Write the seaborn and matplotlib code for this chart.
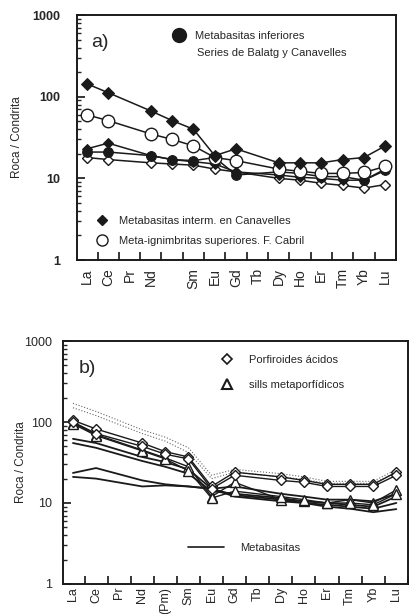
import matplotlib
matplotlib.use('Agg')
import matplotlib.pyplot as plt
from matplotlib.lines import Line2D
from matplotlib.ticker import FuncFormatter, LogLocator, NullFormatter
import numpy as np
import pandas as pd
import seaborn as sns

sns.set_theme(style='ticks')
plt.rcParams['font.family'] = ['Liberation Sans', 'DejaVu Sans']

nan = np.nan

# Elementos de tierras raras (eje x)
elementos = ['La', 'Ce', 'Pr', 'Nd', 'Pm', 'Sm', 'Eu', 'Gd', 'Tb', 'Dy', 'Ho', 'Er', 'Tm', 'Yb', 'Lu']
etiquetas_a = ['La', 'Ce', 'Pr', 'Nd', '', 'Sm', 'Eu', 'Gd', 'Tb', 'Dy', 'Ho', 'Er', 'Tm', 'Yb', 'Lu']
etiquetas_b = ['La', 'Ce', 'Pr', 'Nd', '(Pm)', 'Sm', 'Eu', 'Gd', 'Tb', 'Dy', 'Ho', 'Er', 'Tm', 'Yb', 'Lu']

# Panel a) valores normalizados a condrita
a_interm_1 = [144, 112, nan, 67, 51, 40, 19, 23, nan, 15.5, 15.5, 15.5, 17, 18, 25]
a_ignimb = [60, 51, nan, 35, 30, 25, 18, 16.5, nan, 13, 12.2, 11.5, 11.5, 11.8, 14]
a_inferior = [21, 21, nan, 19, 17, 16.5, 18, 11, nan, 12, 11.5, 10.5, 10.5, 9.5, 12.5]
a_interm_2 = [23, 27, nan, 19, 17, 16, 15, 12, nan, 11, 10.3, 10, 9.5, 9.5, 13]
a_abierto = [18, 17, nan, 15.5, 15, 14.5, 13, 12, nan, 10, 9.5, 8.7, 8.2, 7.6, 8.4]

# Panel b)
b_porf_1 = [105, 82, nan, 55, 43, 37, 16, 24, nan, 21, 19, 17, 17, 17, 24]
b_porf_2 = [100, 72, nan, 50, 40, 35, 15, 22, nan, 19, 18, 16, 16, 16, 22]
b_sill_1 = [98, 70, nan, 45, 36, 28, 12, 18, nan, 11, 10.5, 10, 11, 10, 14.5]
b_sill_2 = [95, 68, nan, 44, 35, 25, 11.5, 14, nan, 12, 11, 10, 10, 9.5, 13]
b_punt_1 = [170, 135, nan, 80, 65, 48, 22, 26, nan, 23, 21, 18.5, 18.5, 18.5, 26]
b_punt_2 = [150, 120, nan, 72, 58, 42, 20, 24, nan, 21, 19.5, 17.5, 17.5, 17.5, 24]
b_meta_1 = [62, 55, nan, 37, 32, 26, 15, 16, nan, 13, 12, 11, 11, 10.5, 13]
b_meta_2 = [55, 48, nan, 33, 28, 23, 14, 13, nan, 11.5, 10.5, 10, 9.5, 9, 12]
b_meta_3 = [23.5, 27, nan, 19, 17, 16, 15, 12, nan, 10.5, 10, 9, 8.5, 7.7, 8.4]
b_meta_4 = [21, 20, nan, 16, 16.5, 16, 15, 12.5, nan, 11, 10, 9.5, 9, 8.5, 10]


def dibujar(ax, serie, color='k', **kw):
    df = pd.DataFrame({'pos': range(len(elementos)), 'valor': serie}).dropna()
    sns.lineplot(data=df, x='pos', y='valor', ax=ax, estimator=None, sort=True,
                 color=color, **kw)


def formato(ax, etiquetas, xlim, negrita, ypad, xsize, xpad):
    ax.set_yscale('log')
    ax.set_ylim(1, 1000)
    ax.set_xlim(*xlim)
    ax.yaxis.set_major_formatter(FuncFormatter(lambda v, p: f'{v:g}'))
    ax.yaxis.set_minor_locator(LogLocator(base=10, subs=np.arange(2, 10)))
    ax.yaxis.set_minor_formatter(NullFormatter())
    ax.set_xticks(range(len(elementos)))
    ax.set_xticklabels(etiquetas, rotation=90, fontsize=xsize)
    ax.set_xticks(np.arange(len(elementos)) + 0.5, minor=True)
    ax.tick_params(axis='x', which='major', length=0, pad=xpad)
    ax.tick_params(axis='x', which='minor', direction='in', length=6, width=1.3)
    ax.tick_params(axis='y', which='major', direction='in', length=6, width=1.3,
                   labelsize=9, pad=ypad)
    ax.tick_params(axis='y', which='minor', direction='in', length=3, width=1)
    if negrita:
        for t in ax.get_yticklabels():
            t.set_fontweight('bold')
    for s in ax.spines.values():
        s.set_visible(True)
        s.set_linewidth(1.4)
        s.set_color('k')
    ax.set_xlabel('')
    ax.set_ylabel('Roca / Condrita', fontsize=8.5)


fig = plt.figure(figsize=(4.12, 6.14), dpi=100)
ax_a = fig.add_axes([0.187, 0.5765, 0.774, 0.399])
ax_b = fig.add_axes([0.153, 0.0489, 0.837, 0.3957])

# ---- panel a ----
lw = 1.1
dibujar(ax_a, a_abierto, linewidth=lw, marker='D', markersize=5,
        markerfacecolor='white', markeredgecolor='k', markeredgewidth=1)
dibujar(ax_a, a_interm_2, linewidth=lw, marker='D', markersize=5,
        markerfacecolor='k', markeredgecolor='k')
dibujar(ax_a, a_inferior, linewidth=lw, marker='o', markersize=7,
        markerfacecolor='k', markeredgecolor='k')
dibujar(ax_a, a_ignimb, linewidth=lw, marker='o', markersize=9,
        markerfacecolor='white', markeredgecolor='k', markeredgewidth=1)
dibujar(ax_a, a_interm_1, linewidth=lw, marker='D', markersize=6,
        markerfacecolor='k', markeredgecolor='k')
formato(ax_a, etiquetas_a, (-0.46, 14.35), True, 12, 10, 6)
ax_a.yaxis.set_label_coords(-0.17, 0.5)
ax_a.text(0.045, 0.886, 'a)', transform=ax_a.transAxes, fontsize=14, va='center')

h1 = [Line2D([], [], linestyle='none', marker='o', markersize=10,
             markerfacecolor='k', markeredgecolor='k')]
leg1 = ax_a.legend(h1, ['Metabasitas inferiores'], loc='center left',
                   bbox_to_anchor=(0.27, 0.915), frameon=False, fontsize=8,
                   handletextpad=0.5, borderaxespad=0)
ax_a.add_artist(leg1)
ax_a.text(0.377, 0.845, 'Series de Balatg y Canavelles', transform=ax_a.transAxes,
          fontsize=8, va='center')

h2 = [Line2D([], [], linestyle='none', marker='D', markersize=5,
             markerfacecolor='k', markeredgecolor='k'),
      Line2D([], [], linestyle='none', marker='o', markersize=8,
             markerfacecolor='white', markeredgecolor='k')]
ax_a.legend(h2, ['Metabasitas interm. en Canavelles',
                 'Meta-ignimbritas superiores. F. Cabril'],
            loc='lower left', bbox_to_anchor=(0.03, 0.04), frameon=False,
            fontsize=8, handletextpad=0.5, labelspacing=0.9, borderaxespad=0)

# ---- panel b ----
for s in [b_punt_1, b_punt_2]:
    dibujar(ax_b, s, color='0.4', linewidth=0.8, linestyle=':')
for s in [b_meta_1, b_meta_2, b_meta_3, b_meta_4]:
    dibujar(ax_b, s, linewidth=1.3)
for s in [b_sill_1, b_sill_2]:
    dibujar(ax_b, s, linewidth=1.0, marker='^', markersize=7,
            markerfacecolor='white', markeredgecolor='k', markeredgewidth=1)
for s in [b_porf_1, b_porf_2]:
    dibujar(ax_b, s, linewidth=1.0, marker='D', markersize=5,
            markerfacecolor='white', markeredgecolor='k', markeredgewidth=1)
formato(ax_b, etiquetas_b, (-0.43, 14.44), False, 8, 9, 2)
ax_b.yaxis.set_label_coords(-0.105, 0.5)
ax_b.text(0.045, 0.885, 'b)', transform=ax_b.transAxes, fontsize=14, va='center')

h3 = [Line2D([], [], linestyle='none', marker='D', markersize=5,
             markerfacecolor='white', markeredgecolor='k', markeredgewidth=1.2),
      Line2D([], [], linestyle='none', marker='^', markersize=7,
             markerfacecolor='white', markeredgecolor='k', markeredgewidth=1.5)]
leg3 = ax_b.legend(h3, ['Porfiroides ácidos', 'sills metaporfídicos'],
                   loc='upper left', bbox_to_anchor=(0.43, 0.96), frameon=False,
                   fontsize=8, handletextpad=1.0, labelspacing=1.3, borderaxespad=0)
ax_b.add_artist(leg3)
h4 = [Line2D([], [], color='k', linewidth=1.2)]
ax_b.legend(h4, ['Metabasitas'], loc='center left', bbox_to_anchor=(0.35, 0.148),
            frameon=False, fontsize=8, handlelength=3.2, handletextpad=1.5,
            borderaxespad=0)

fig.savefig('out.png', dpi=100)
